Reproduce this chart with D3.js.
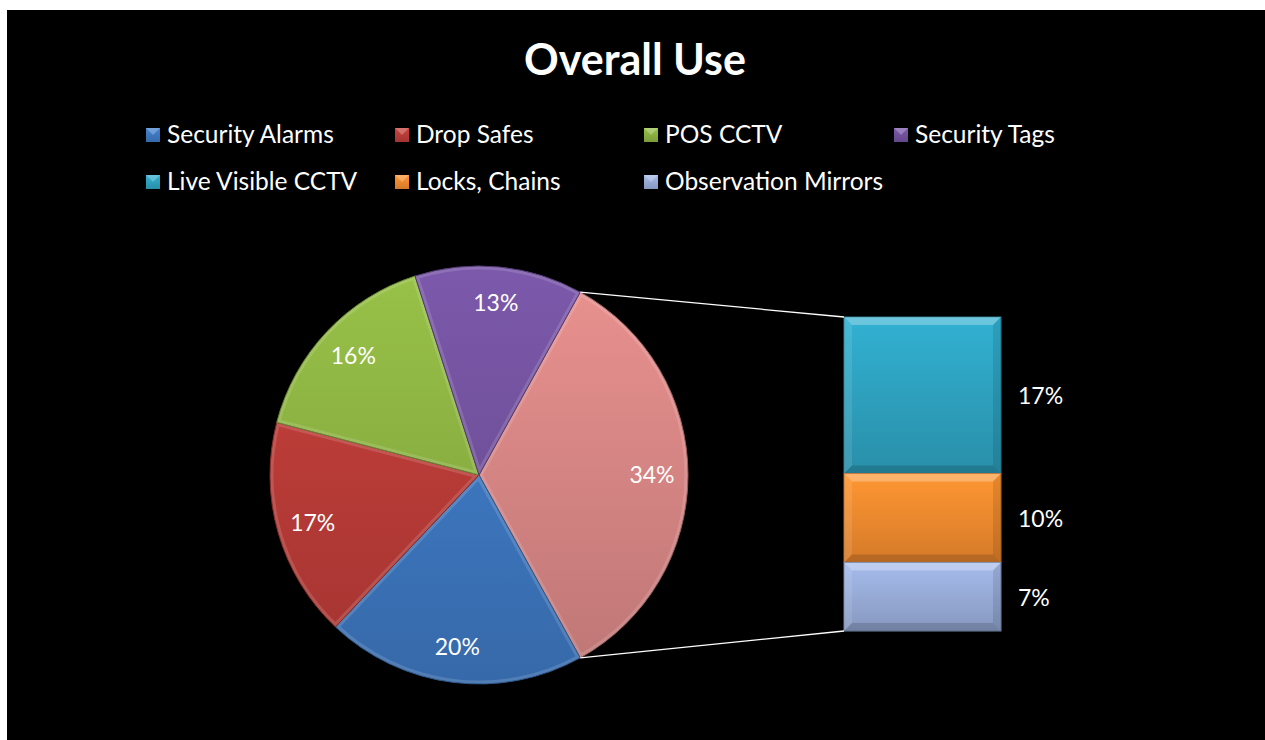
<!DOCTYPE html>
<html><head><meta charset="utf-8">
<script src="https://cdn.jsdelivr.net/npm/d3@7"></script>
<style>
html,body{margin:0;padding:0;background:#fff;}
svg{display:block;}
text{font-family:Lato,"Open Sans",sans-serif;fill:#fff;}
</style></head>
<body>
<script>
// ---- data ----
const title = "Overall Use";
const mainCategories = ["Security Alarms", "Drop Safes", "POS CCTV", "Security Tags"];
const mainValues = [20.1, 17.0, 16.0, 13.0];
const secondCategories = ["Live Visible CCTV", "Locks, Chains", "Observation Mirrors"];
const secondValues = [16.9, 9.6, 7.4];
const legendOrder = ["Security Alarms", "Drop Safes", "POS CCTV", "Security Tags", "Live Visible CCTV", "Locks, Chains", "Observation Mirrors"];
const colors = {
  "Security Alarms": "#3d77c0",
  "Drop Safes": "#b93b37",
  "POS CCTV": "#8bb142",
  "Security Tags": "#71519c",
  "Other": "#d68684",
  "Live Visible CCTV": "#2ea2c0",
  "Locks, Chains": "#f18a2f",
  "Observation Mirrors": "#98acd8"
};

const W = 1265, H = 740;
const svg = d3.select("body").append("svg").attr("width", W).attr("height", H);
const defs = svg.append("defs");
svg.append("rect").attr("x", 7).attr("y", 10).attr("width", W - 7).attr("height", H - 10).attr("fill", "#000");

const total = d3.sum(mainValues) + d3.sum(secondValues);
const fmt = v => Math.round(v / total * 100) + "%";

// gradients
function grad(id, c, x1, y1, x2, y2, units) {
  const g = defs.append("linearGradient").attr("id", id)
    .attr("x1", x1).attr("y1", y1).attr("x2", x2).attr("y2", y2);
  if (units) g.attr("gradientUnits", units);
  g.append("stop").attr("offset", "0%").attr("stop-color", d3.color(c).brighter(0.25));
  g.append("stop").attr("offset", "100%").attr("stop-color", d3.color(c).darker(0.35));
}

// title
svg.append("text").attr("x", 635).attr("y", 75).attr("text-anchor", "middle")
  .style("font-weight", "bold").style("font-size", "43px").text(title);

// legend
const legX = [146, 395, 644, 894];
const legY = [135, 182];
legendOrder.forEach((name, i) => {
  const x = legX[i % 4], y = legY[Math.floor(i / 4)];
  const id = "lg" + i;
  grad(id, colors[name], "0", "0", "0", "1");
  const g = svg.append("g");
  g.append("rect").attr("x", x).attr("y", y - 7).attr("width", 14).attr("height", 14)
    .attr("fill", `url(#${id})`);
  g.append("path").attr("d", `M${x},${y - 7}L${x + 7},${y}L${x + 14},${y - 7}Z`)
    .attr("fill", "rgba(255,255,255,0.25)");
  g.append("text").attr("x", x + 21).attr("y", y + 8).style("font-size", "24.5px").text(name);
});

// main pie
const cx = 479, cy = 475, R = 209;
const otherVal = d3.sum(secondValues);
const pieData = [{ name: "Other", value: otherVal }].concat(mainCategories.map((n, i) => ({ name: n, value: mainValues[i] })));
const start = Math.PI / 2 - (otherVal / total) * Math.PI;
const pie = d3.pie().sort(null).value(d => d.value).startAngle(start).endAngle(start + 2 * Math.PI);
const arcs = pie(pieData);
const arc = d3.arc().innerRadius(0).outerRadius(R);
const labelArc = d3.arc().innerRadius(173).outerRadius(173);
const pg = svg.append("g").attr("transform", `translate(${cx},${cy})`);
arcs.forEach((a, i) => {
  const id = "pg" + i;
  grad(id, colors[a.data.name], 0, -R, 0, R, "userSpaceOnUse");
  defs.append("clipPath").attr("id", "pc" + i).append("path").attr("d", arc(a));
  pg.append("path").attr("d", arc(a)).attr("fill", `url(#${id})`);
  pg.append("path").attr("d", arc(a)).attr("fill", "none")
    .attr("stroke", "rgba(255,255,255,0.14)").attr("stroke-width", 7)
    .attr("clip-path", `url(#pc${i})`);
  pg.append("path").attr("d", arc(a)).attr("fill", "none")
    .attr("stroke", d3.color(colors[a.data.name]).darker(0.9)).attr("stroke-width", 1);
});
arcs.forEach(a => {
  const [lx, ly] = labelArc.centroid(a);
  pg.append("text").attr("x", lx).attr("y", ly + 8).attr("text-anchor", "middle")
    .style("font-size", "23px").text(fmt(a.data.value));
});

// secondary stacked bar
const bx0 = 844, bx1 = 1001, by0 = 317, by1 = 631;
const y = d3.scaleLinear().domain([0, otherVal]).range([by0, by1]);
let acc = 0;
secondValues.forEach((v, i) => {
  const name = secondCategories[i];
  const ya = y(acc), yb = y(acc + v);
  acc += v;
  const id = "bg" + i;
  grad(id, colors[name], 0, 0, 0, 1);
  const g = svg.append("g");
  g.append("rect").attr("x", bx0).attr("y", ya).attr("width", bx1 - bx0).attr("height", yb - ya)
    .attr("fill", `url(#${id})`).attr("stroke", d3.color(colors[name]).darker(0.8)).attr("stroke-width", 1);
  // bevel
  g.append("path").attr("d", `M${bx0},${ya}L${bx1},${ya}L${bx1 - 8},${ya + 8}L${bx0 + 8},${ya + 8}Z`)
    .attr("fill", "rgba(255,255,255,0.28)");
  g.append("path").attr("d", `M${bx0},${ya}L${bx0 + 8},${ya + 8}L${bx0 + 8},${yb - 8}L${bx0},${yb}Z`)
    .attr("fill", "rgba(255,255,255,0.1)");
  g.append("path").attr("d", `M${bx0},${yb}L${bx1},${yb}L${bx1 - 8},${yb - 8}L${bx0 + 8},${yb - 8}Z`)
    .attr("fill", "rgba(0,0,0,0.15)");
  g.append("path").attr("d", `M${bx1},${ya}L${bx1},${yb}L${bx1 - 8},${yb - 8}L${bx1 - 8},${ya + 8}Z`)
    .attr("fill", "rgba(0,0,0,0.1)");
  svg.append("text").attr("x", 1018).attr("y", (ya + yb) / 2 + 9).style("font-size", "23px").text(fmt(v));
});

// connector lines
const a0 = arcs[0];
const p1 = [cx + R * Math.sin(a0.startAngle), cy - R * Math.cos(a0.startAngle)];
const p2 = [cx + R * Math.sin(a0.endAngle), cy - R * Math.cos(a0.endAngle)];
svg.append("line").attr("x1", p1[0]).attr("y1", p1[1]).attr("x2", bx0).attr("y2", by0)
  .attr("stroke", "#fff").attr("stroke-width", 1.3);
svg.append("line").attr("x1", p2[0]).attr("y1", p2[1]).attr("x2", bx0).attr("y2", by1)
  .attr("stroke", "#fff").attr("stroke-width", 1.3);
</script>
</body></html>
